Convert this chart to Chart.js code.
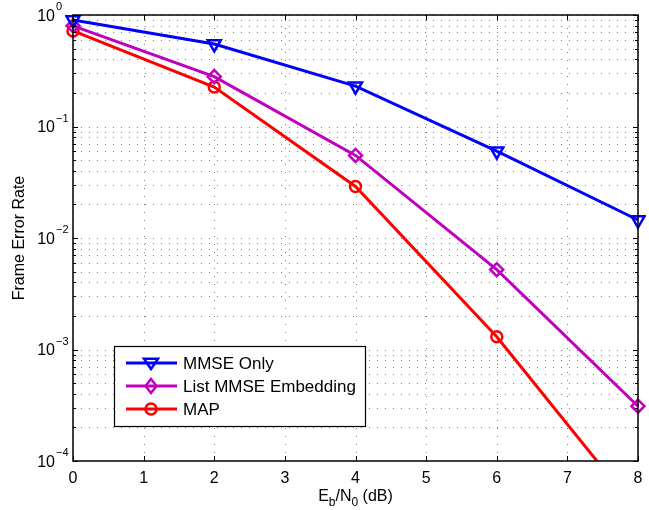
<!DOCTYPE html>
<html><head><meta charset="utf-8">
<script src="https://cdn.jsdelivr.net/npm/chart.js@4/dist/chart.umd.min.js"></script>
<style>html,body{margin:0;padding:0;background:#fff}#wrap{width:649px;height:510px}</style>
</head><body><div id="wrap"><canvas id="c" width="649" height="510"></canvas></div>
<script>
const xValues = [0, 2, 4, 6, 8];
const mmseOnly = [0.9, 0.55, 0.23, 0.06, 0.0145];
const listMmse = [0.8, 0.28, 0.055, 0.0052, 0.00031];
const mapVals = [0.72, 0.226, 0.029, 0.0013, 0.000035];
const xTicks = [0, 1, 2, 3, 4, 5, 6, 7, 8];
const yDecades = [-4, -3, -2, -1, 0];
const seriesNames = ['MMSE Only', 'List MMSE Embedding', 'MAP'];

const FONT = '"Liberation Sans", Arial, sans-serif';
const colors = ['#0000ff', '#bf00bf', '#ff0000'];
const styles = ['triangle', 'rectRot', 'circle'];

function toPts(v){ return xValues.map((x,i)=>({x:x,y:v[i]})); }

const minorY = [];
yDecades.forEach(d=>{ if(d<0){ for(let m=2;m<=9;m++) minorY.push(m*Math.pow(10,d)); } });

function drawMarker(ctx, style, x, y, color){
  ctx.save();
  ctx.strokeStyle = color; ctx.lineWidth = 2.5;
  ctx.beginPath();
  if(style==='triangle'){
    const r=7;
    ctx.moveTo(x-r, y-r*0.6); ctx.lineTo(x+r, y-r*0.6); ctx.lineTo(x, y+r*0.85); ctx.closePath();
  } else if(style==='rectRot'){
    ctx.moveTo(x, y-7); ctx.lineTo(x+5.5, y); ctx.lineTo(x, y+7); ctx.lineTo(x-5.5, y); ctx.closePath();
  } else {
    ctx.arc(x, y, 5.5, 0, Math.PI*2);
  }
  ctx.stroke();
  ctx.restore();
}

const decor = {
  id: 'decor',
  beforeDatasetsDraw(chart){
    const ctx = chart.ctx, a = chart.chartArea, xs = chart.scales.x, ys = chart.scales.y;
    ctx.save();
    ctx.strokeStyle = 'rgba(0,0,0,0.5)';
    ctx.lineWidth = 1;
    ctx.setLineDash([1,7]);
    xTicks.forEach(t=>{
      const px = Math.round(xs.getPixelForValue(t))+0.5;
      ctx.beginPath(); ctx.moveTo(px, a.bottom); ctx.lineTo(px, a.top); ctx.stroke();
    });
    minorY.concat(yDecades.map(d=>Math.pow(10,d))).forEach(v=>{
      const py = Math.round(ys.getPixelForValue(v))+0.5;
      ctx.beginPath(); ctx.moveTo(a.left, py); ctx.lineTo(a.right, py); ctx.stroke();
    });
    ctx.restore();
  },
  afterDatasetsDraw(chart){
    const ctx = chart.ctx, a = chart.chartArea, xs = chart.scales.x, ys = chart.scales.y;
    ctx.save();
    ctx.strokeStyle = '#000'; ctx.lineWidth = 1.5; ctx.setLineDash([]);
    ctx.strokeRect(a.left, a.top, a.right-a.left, a.bottom-a.top);
    ctx.lineWidth = 1;
    xTicks.forEach(t=>{
      const px = Math.round(xs.getPixelForValue(t))+0.5;
      ctx.beginPath(); ctx.moveTo(px, a.bottom); ctx.lineTo(px, a.bottom-5);
      ctx.moveTo(px, a.top); ctx.lineTo(px, a.top+5); ctx.stroke();
    });
    yDecades.forEach(d=>{
      const py = Math.round(ys.getPixelForValue(Math.pow(10,d)))+0.5;
      ctx.beginPath(); ctx.moveTo(a.left, py); ctx.lineTo(a.left+5, py);
      ctx.moveTo(a.right, py); ctx.lineTo(a.right-5, py); ctx.stroke();
    });
    minorY.forEach(v=>{
      const py = Math.round(ys.getPixelForValue(v))+0.5;
      ctx.beginPath(); ctx.moveTo(a.left, py); ctx.lineTo(a.left+3, py);
      ctx.moveTo(a.right, py); ctx.lineTo(a.right-3, py); ctx.stroke();
    });
    // x tick labels
    ctx.fillStyle = '#000';
    ctx.font = '16px ' + FONT;
    ctx.textAlign = 'center'; ctx.textBaseline = 'alphabetic';
    xTicks.forEach(t=>{
      ctx.fillText(String(t), xs.getPixelForValue(t), a.bottom + 22);
    });
    // y tick labels 10^d
    yDecades.forEach(d=>{
      const py = ys.getPixelForValue(Math.pow(10,d));
      const exp = d===0 ? '0' : '\u2212' + Math.abs(d);
      const right = a.left - 18;
      ctx.textBaseline = 'alphabetic';
      ctx.font = '16px ' + FONT; ctx.textAlign = 'right';
      ctx.fillText('10', right, py + 5.5);
      ctx.font = '11px ' + FONT; ctx.textAlign = 'left';
      ctx.fillText(exp, right + 1, py - 5);
    });
    // axis titles
    ctx.textAlign = 'left'; ctx.textBaseline = 'alphabetic';
    const parts = [['E',16,0],['b',12,5],['/N',16,0],['0',12,5],[' (dB)',16,0]];
    let tw = 0;
    parts.forEach(p=>{ ctx.font = p[1]+'px '+FONT; tw += ctx.measureText(p[0]).width; });
    let cx = (a.left + a.right)/2 - tw/2;
    const by = 501;
    parts.forEach(p=>{ ctx.font = p[1]+'px '+FONT; ctx.fillText(p[0], cx, by + p[2]); cx += ctx.measureText(p[0]).width; });
    ctx.save();
    ctx.translate(24, (a.top+a.bottom)/2);
    ctx.rotate(-Math.PI/2);
    ctx.font = '16px ' + FONT; ctx.textAlign = 'center';
    ctx.fillText('Frame Error Rate', 0, 0);
    ctx.restore();
    // legend
    const lx = 114, ly = 346, lw = 251, lh = 80;
    ctx.fillStyle = '#fff';
    ctx.fillRect(lx, ly, lw, lh);
    ctx.strokeStyle = '#000'; ctx.lineWidth = 1.2;
    ctx.strokeRect(lx+0.5, ly+0.5, lw, lh);
    seriesNames.forEach((name,i)=>{
      const yy = ly + 17 + i*23;
      ctx.strokeStyle = colors[i]; ctx.lineWidth = 3;
      ctx.beginPath(); ctx.moveTo(lx+12, yy); ctx.lineTo(lx+63, yy); ctx.stroke();
      drawMarker(ctx, styles[i], lx+37, yy, colors[i]);
      ctx.fillStyle = '#000'; ctx.font = '17px ' + FONT;
      ctx.textAlign = 'left'; ctx.textBaseline = 'middle';
      ctx.fillText(name, lx+69, yy+1);
    });
    ctx.restore();
  }
};

const datasets = [mmseOnly, listMmse, mapVals].map((v,i)=>({
  label: seriesNames[i],
  data: toPts(v),
  borderColor: colors[i],
  backgroundColor: 'rgba(255,255,255,0)',
  borderWidth: 3,
  pointStyle: styles[i],
  pointRotation: i===0 ? 180 : 0,
  pointRadius: i===0 ? 7.5 : (i===1 ? 6.5 : 5.5),
  pointBorderWidth: 2.5,
  pointBackgroundColor: 'rgba(255,255,255,0)',
  pointBorderColor: colors[i],
  tension: 0,
  clip: {left:8,right:8,top:8,bottom:0}
}));

new Chart(document.getElementById('c'), {
  type: 'line',
  data: { datasets },
  options: {
    responsive: false,
    animation: false,
    events: [],
    layout: { padding: { left: 0, right: 11, top: 15, bottom: 0 } },
    plugins: { legend: { display: false }, tooltip: { enabled: false } },
    scales: {
      x: {
        type: 'linear', min: 0, max: 8,
        grid: { display: false }, border: { display: false },
        ticks: { display: false },
        afterFit(s){ s.height = 49; }
      },
      y: {
        type: 'logarithmic', min: 1e-4, max: 1,
        grid: { display: false }, border: { display: false },
        ticks: { display: false },
        afterFit(s){ s.width = 73; }
      }
    }
  },
  plugins: [decor]
});
</script>
</body></html>
